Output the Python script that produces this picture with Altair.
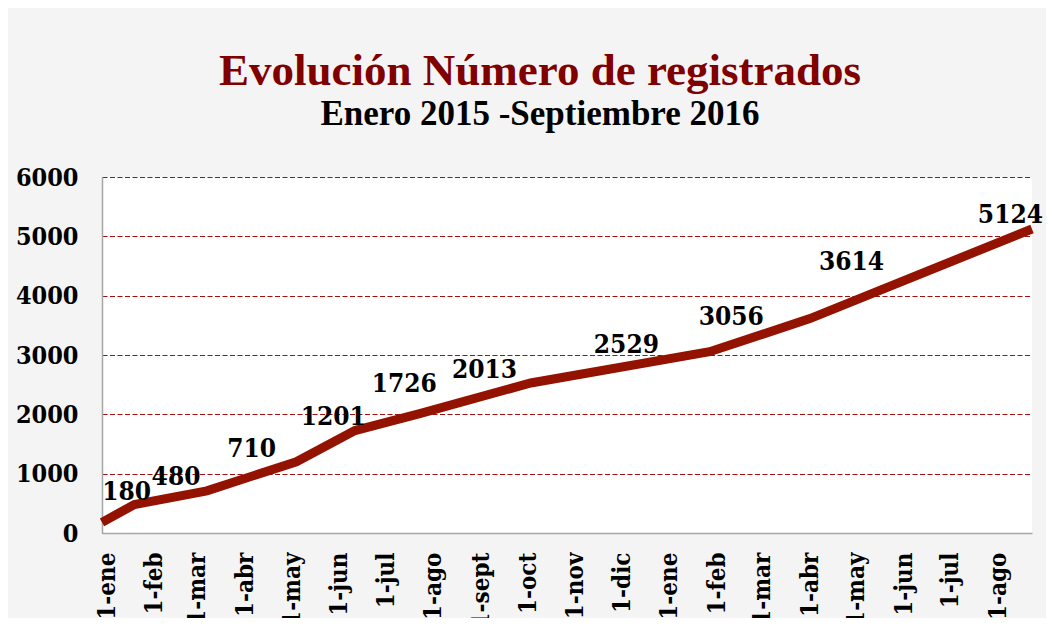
import altair as alt
import pandas as pd

# Data
fechas = ["2015-01-01", "2015-01-22", "2015-03-10", "2015-05-07", "2015-06-14",
          "2015-07-26", "2015-10-06", "2016-01-30", "2016-04-04", "2016-08-26"]
registrados = [180, 480, 710, 1201, 1726, 2013, 2529, 3056, 3614, 5124]

# where each data label sits (date / level in data units, as placed in the original)
fechas_etiqueta = ["2015-01-17", "2015-02-18", "2015-04-08", "2015-05-31", "2015-07-16",
                   "2015-09-06", "2015-12-07", "2016-02-13", "2016-05-01", "2016-08-12"]
niveles_etiqueta = [556, 809, 1281, 1820, 2377, 2613, 3034, 3506, 4433, 5225]

meses = ["ene", "feb", "mar", "abr", "may", "jun", "jul", "ago", "sept", "oct", "nov", "dic"]
y_ticks = [0, 1000, 2000, 3000, 4000, 5000, 6000]

titulo = "Evolución Número de registrados"
subtitulo = "Enero 2015 -Septiembre 2016"

df = pd.DataFrame({
    "fecha": fechas,
    "registrados": registrados,
    "fecha_etiqueta": fechas_etiqueta,
    "nivel_etiqueta": niveles_etiqueta,
})

FONT_LBL = "DejaVu Serif Condensed"
FONT_TTL = "Liberation Serif"

x_scale = alt.Scale(
    type="utc",
    domain=[alt.DateTime(year=2015, month=1, date=1, utc=True),
            alt.DateTime(year=2016, month=8, date=26, utc=True)],
    nice=False,
)
y_scale = alt.Scale(domain=[0, 6000], nice=False)

label_expr = "'1-' + " + str(meses) + "[utcmonth(datum.value)]"

base = alt.Chart(df)

line = base.mark_line(color="#941200", strokeWidth=9, strokeCap="butt", strokeJoin="miter").encode(
    x=alt.X("fecha:T", scale=x_scale, title=None,
            axis=alt.Axis(
                tickCount=alt.TimeIntervalStep(interval="month", step=1),
                labelExpr=label_expr,
                labelAngle=270,
                labelFont=FONT_LBL, labelFontSize=24, labelFontWeight="bold",
                labelColor="black", labelPadding=19, labelOffset=5,
                labelOverlap=False, labelFlush=False, ticks=False, grid=False,
                domainColor="#A6A6A6", domainWidth=1.5,
            )),
    y=alt.Y("registrados:Q", scale=y_scale, title=None,
            axis=alt.Axis(
                values=y_ticks, format="d",
                labelFont=FONT_LBL, labelFontSize=25, labelFontWeight="bold",
                labelColor="black", labelPadding=24, ticks=False,
                grid=True, gridColor="#A01010", gridDash=[5, 2.5], gridWidth=1.2,
                domainColor="#A6A6A6", domainWidth=1.5,
            )),
)

labels = base.mark_text(
    font=FONT_LBL, fontSize=26, fontWeight="bold", color="black",
    align="center", baseline="alphabetic",
).encode(
    x=alt.X("fecha_etiqueta:T", scale=x_scale),
    y=alt.Y("nivel_etiqueta:Q", scale=y_scale),
    text=alt.Text("registrados:Q", format="d"),
)

chart = alt.layer(line, labels).properties(
    width=930,
    height=356,
    title=alt.TitleParams(
        text=titulo,
        subtitle=subtitulo,
        anchor="middle",
        frame="group",
        dx=-27,
        offset=33,
        font=FONT_TTL, fontSize=45, fontWeight="bold", color="#800000",
        subtitleFont=FONT_TTL, subtitleFontSize=35, subtitleFontWeight="bold",
        subtitleColor="black", subtitlePadding=3,
    ),
    autosize=alt.AutoSizeParams(type="none"),
    padding={"left": 94, "top": 169, "right": 14, "bottom": 85},
    background="#F4F4F4",
).configure_view(fill="white", strokeWidth=0)

chart.save("out.html", embed_options={"renderer": "svg", "actions": False})
